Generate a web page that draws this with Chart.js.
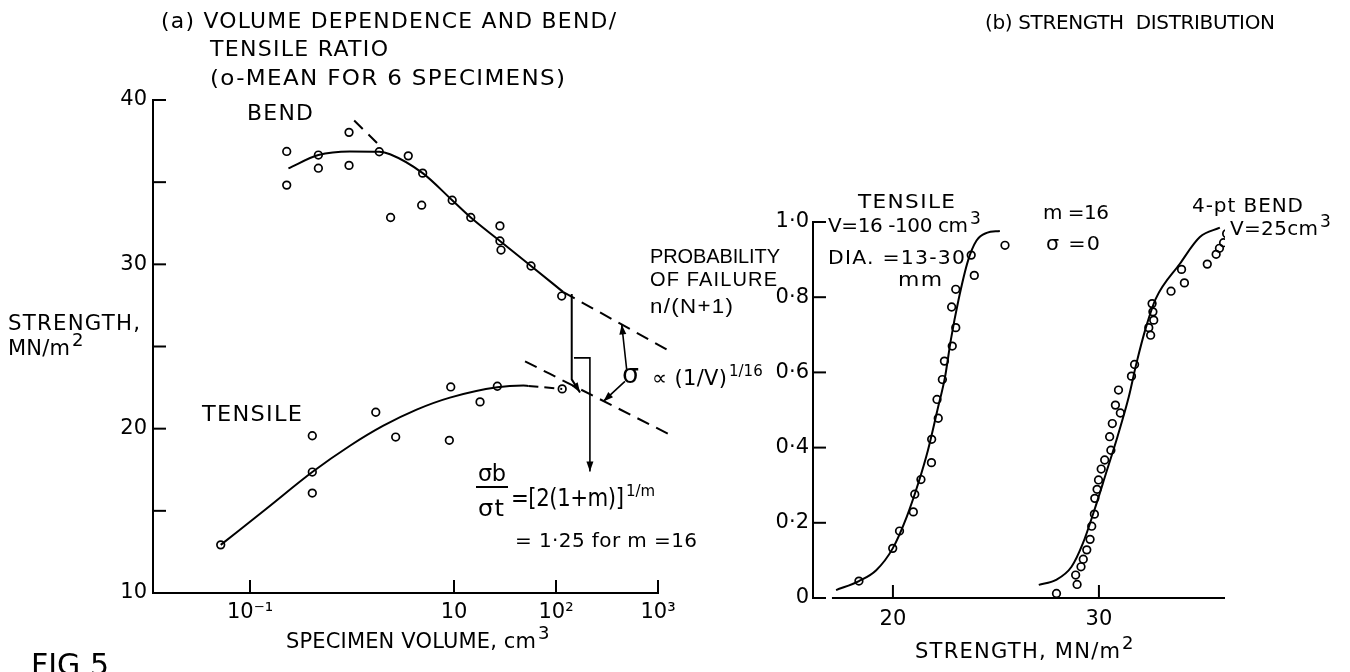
<!DOCTYPE html>
<html><head><meta charset="utf-8">
<script src="https://cdn.jsdelivr.net/npm/chart.js@4.4.0/dist/chart.umd.min.js"></script>
<style>
html,body{margin:0;padding:0;background:#fff;}
#wrap{position:relative;width:1350px;height:672px;overflow:hidden;background:#fff;}
canvas{position:absolute;left:0;top:0;}
</style></head><body>
<div id="wrap"><canvas id="ca" width="1350" height="672"></canvas><canvas id="cb" width="1350" height="672"></canvas></div>
<script>
// ================= Panel (a): volume dependence =================
const volTicks = [0.1, 10, 100, 1000];
const volTickLabels = ['10\u207B\u00B9', '10', '10\u00B2', '10\u00B3'];
const strTicksA = [10, 15, 20, 25, 30, 35, 40];
const strTickLabelsA = ['10', '', '20', '', '30', '', '40'];

// bend specimens (volume cm3, strength MN/m2)
const bendVol = [0.229, 0.229, 0.468, 0.468, 0.935, 0.935, 1.85, 3.56, 4.93, 2.39, 4.82, 9.6, 14.6, 28.2, 28.2, 28.9, 56.9, 113.7];
const bendStr = [36.87, 34.82, 36.65, 35.85, 38.03, 36.02, 36.85, 36.6, 35.55, 32.85, 33.6, 33.9, 32.85, 32.34, 31.42, 30.87, 29.9, 28.07];
// tensile specimens
const tensVol = [0.0516, 0.408, 0.408, 0.408, 1.71, 2.68, 9.0, 9.29, 18.0, 26.6, 115];
const tensStr = [12.93, 19.57, 17.36, 16.08, 21.0, 19.49, 19.29, 22.54, 21.63, 22.58, 22.42];
// fitted curves
const bendFitVol = [0.238, 0.468, 0.955, 1.85, 2.36, 4.93, 9.6, 14.6, 28.2, 56.9, 118];
const bendFitStr = [35.84, 36.65, 36.87, 36.85, 36.7, 35.55, 33.9, 32.85, 31.42, 29.9, 28.31];
const tensFitVol = [0.0516, 0.1436, 0.408, 0.955, 2.03, 4.3, 9.12, 26.6, 47.9, 53.6];
const tensFitStr = [12.93, 15.11, 17.36, 18.96, 20.18, 21.16, 21.89, 22.52, 22.62, 22.6];
const tensDashVol = [53.6, 115];
const tensDashStr = [22.6, 22.42];
// (1/V)^(1/16) dashed lines
const bendExtLeftVol = [1.05, 2.0];
const bendExtLeftStr = [38.75, 37.05];
const bendExtRightVol = [118, 1312];
const bendExtRightStr = [28.31, 24.71];
const tensExtVol = [49.7, 1312];
const tensExtStr = [24.1, 19.63];
// annotation leader lines (data space), arrow head at last point
const gapLineVol = [142.6, 142.6, 172];
const gapLineStr = [28.2, 23.0, 22.2];
const bracketVol = [150, 215, 215];
const bracketStr = [24.31, 24.31, 17.4];
const sigUpVol = [493, 441];
const sigUpStr = [23.6, 26.34];
const sigDownVol = [474, 291];
const sigDownStr = [22.88, 21.66];

// ================= Panel (b): strength distribution =================
const probTicks = [0, 0.2, 0.4, 0.6, 0.8, 1.0];
const probTickLabels = ['0', '0\u00B72', '0\u00B74', '0\u00B76', '0\u00B78', '1\u00B70'];
const strTicksB = [20, 30];
const strTickLabelsB = ['20', '30'];
const strAxisStartB = 17.04;

const tensileS = [18.35, 19.99, 20.32, 20.99, 21.06, 21.36, 21.87, 21.88, 22.2, 22.14, 22.4, 22.5, 22.88, 23.05, 22.85, 23.05, 23.8, 23.95, 25.44];
const tensileP = [0.045, 0.132, 0.178, 0.229, 0.276, 0.315, 0.36, 0.422, 0.478, 0.528, 0.581, 0.63, 0.67, 0.719, 0.774, 0.821, 0.912, 0.858, 0.938];
const bendS = [27.94, 28.94, 28.87, 29.13, 29.24, 29.41, 29.57, 29.65, 29.78, 29.8, 29.91, 29.98, 30.11, 30.28, 30.58, 30.52, 30.65, 30.8, 31.04, 30.95, 31.58, 31.73, 32.51, 32.42, 32.66, 32.62, 32.58, 33.5, 34.15, 34.01, 35.26, 35.69, 35.85, 36.05, 36.2];
const bendP = [0.012, 0.036, 0.061, 0.083, 0.103, 0.128, 0.156, 0.191, 0.223, 0.265, 0.289, 0.314, 0.343, 0.367, 0.393, 0.429, 0.464, 0.513, 0.492, 0.553, 0.59, 0.621, 0.699, 0.719, 0.739, 0.761, 0.783, 0.816, 0.838, 0.874, 0.888, 0.914, 0.93, 0.945, 0.969];
const tensileFitS = [17.24, 18.35, 19.19, 19.99, 20.67, 21.23, 21.7, 22.16, 22.53, 22.81, 23.18, 23.65, 24.06, 24.55, 25.19];
const tensileFitP = [0.021, 0.045, 0.074, 0.132, 0.216, 0.305, 0.393, 0.5, 0.588, 0.686, 0.792, 0.898, 0.951, 0.971, 0.976];
const bendFitS = [27.08, 27.92, 28.67, 29.22, 29.78, 30.34, 30.9, 31.45, 31.82, 32.29, 32.75, 33.93, 34.9, 35.87];
const bendFitP = [0.035, 0.048, 0.083, 0.145, 0.234, 0.331, 0.429, 0.535, 0.624, 0.721, 0.795, 0.889, 0.96, 0.985];

// ================= helpers =================
const FONT = 'DejaVu Sans';
const zip = (xs, ys) => xs.map((x, i) => ({x: x, y: ys[i]}));
const pts = (xs, ys) => ({data: zip(xs, ys), pointRadius: 3.8, pointHoverRadius: 3.8, pointBorderWidth: 1.7,
  pointBorderColor: '#000', pointBackgroundColor: 'rgba(255,255,255,0)', showLine: false});
const curve = (xs, ys, dash, noclip) => ({data: zip(xs, ys), showLine: true, pointRadius: 0, borderColor: '#000',
  borderWidth: 2, borderDash: dash || [], cubicInterpolationMode: 'monotone', clip: noclip ? false : undefined});

function fitText(ctx, t) {
  const size = t.size || 20;
  const fam = t.font || FONT;
  ctx.save();
  ctx.fillStyle = '#000';
  ctx.font = size + 'px "' + fam + '"';
  ctx.letterSpacing = '0px';
  ctx.textBaseline = 'alphabetic';
  ctx.textAlign = 'left';
  const base = t.y + 0.365 * size;
  const w0 = ctx.measureText(t.s).width;
  const n = [...t.s].length;
  let ls = n > 1 ? (t.w - w0) / (n - 1) : 0;
  ls = Math.max(-0.5, Math.min(1.2, ls));
  ctx.letterSpacing = ls + 'px';
  const w1 = w0 + ls * (n - 1);
  const sx = t.w / w1;
  ctx.save();
  ctx.translate(t.x, base);
  ctx.scale(sx, 1);
  ctx.fillText(t.s, 0, 0);
  ctx.restore();
  if (t.sup) {
    const ss = t.supSize || Math.round(size * 0.75);
    ctx.letterSpacing = '0px';
    ctx.font = ss + 'px "' + fam + '"';
    ctx.fillText(t.sup, t.x + t.w + 2, base - size * 0.42);
  }
  ctx.restore();
}

function arrowHead(ctx, x1, y1, x2, y2) {
  const a = Math.atan2(y2 - y1, x2 - x1), L = 10, W = 3.5;
  ctx.beginPath();
  ctx.moveTo(x2, y2);
  ctx.lineTo(x2 - L * Math.cos(a) + W * Math.sin(a), y2 - L * Math.sin(a) - W * Math.cos(a));
  ctx.lineTo(x2 - L * Math.cos(a) - W * Math.sin(a), y2 - L * Math.sin(a) + W * Math.cos(a));
  ctx.closePath();
  ctx.fill();
}

function innerTicks(chart, len, xFrom) {
  const ctx = chart.ctx, xs = chart.scales.x, ys = chart.scales.y, ca = chart.chartArea;
  ctx.save();
  ctx.strokeStyle = '#000';
  ctx.lineWidth = 2;
  ys.ticks.forEach(t => {
    const y = ys.getPixelForValue(t.value);
    ctx.beginPath(); ctx.moveTo(ca.left, y); ctx.lineTo(ca.left + len, y); ctx.stroke();
  });
  xs.ticks.forEach(t => {
    const x = xs.getPixelForValue(t.value);
    ctx.beginPath(); ctx.moveTo(x, ca.bottom); ctx.lineTo(x, ca.bottom - len); ctx.stroke();
  });
  if (xFrom !== undefined) {
    ctx.beginPath();
    ctx.moveTo(xs.getPixelForValue(xFrom), ca.bottom);
    ctx.lineTo(ca.right, ca.bottom);
    ctx.stroke();
  }
  ctx.restore();
}

const textsA = [
  {s: '(a) VOLUME DEPENDENCE AND BEND/', x: 161, y: 20, w: 455, size: 21},
  {s: 'TENSILE RATIO', x: 210, y: 48, w: 178, size: 21},
  {s: '(o-MEAN FOR 6 SPECIMENS)', x: 210, y: 77, w: 355, size: 21},
  {s: 'BEND', x: 247, y: 112, w: 66, size: 21},
  {s: 'TENSILE', x: 202, y: 413, w: 100, size: 21},
  {s: 'STRENGTH,', x: 8, y: 322, w: 132, size: 21},
  {s: 'MN/m', x: 8, y: 347, w: 62, size: 21, sup: '2', supSize: 18},
  {s: 'SPECIMEN VOLUME, cm', x: 286, y: 640, w: 250, size: 21, sup: '3', supSize: 18},
  {s: '\u03C3b', x: 478, y: 473, w: 28, size: 23},
  {s: '\u03C3t', x: 478, y: 508, w: 26, size: 23},
  {s: '=[2(1+m)]', x: 511, y: 497, w: 113, size: 24, sup: '1/m', supSize: 15},
  {s: '= 1\u00B725 for m =16', x: 515, y: 540, w: 182, size: 20},
  {s: '\u03C3', x: 622, y: 374, w: 17, size: 26},
  {s: '\u221D (1/V)', x: 652, y: 377, w: 75, size: 21, sup: '1/16', supSize: 15},
  {s: 'PROBABILITY', x: 650, y: 256, w: 130, size: 20, font: 'Liberation Sans'},
  {s: 'OF FAILURE', x: 650, y: 279, w: 127, size: 20, font: 'Liberation Sans'},
  {s: 'n/(N+1)', x: 650, y: 306, w: 83, size: 20, font: 'Liberation Sans'},
  {s: 'FIG 5', x: 31, y: 664, w: 78, size: 30}
];
const textsB = [
  {s: '(b) STRENGTH  DISTRIBUTION', x: 985, y: 22, w: 290, size: 20},
  {s: 'TENSILE', x: 858, y: 201, w: 97, size: 19},
  {s: 'V=16 -100 cm', x: 828, y: 225, w: 140, size: 20, sup: '3', supSize: 17},
  {s: 'DIA. =13-30', x: 828, y: 257, w: 137, size: 20},
  {s: 'mm', x: 898, y: 279, w: 44, size: 20},
  {s: 'm =16', x: 1043, y: 212, w: 66, size: 20},
  {s: '\u03C3 =0', x: 1046, y: 243, w: 54, size: 20},
  {s: '4-pt BEND', x: 1192, y: 205, w: 111, size: 20},
  {s: 'V=25cm', x: 1230, y: 228, w: 88, size: 20, sup: '3', supSize: 17},
  {s: 'STRENGTH, MN/m', x: 915, y: 650, w: 205, size: 21, sup: '2', supSize: 18}
];

const annotA = {
  id: 'annotA',
  afterDraw(chart) {
    const ctx = chart.ctx, xs = chart.scales.x, ys = chart.scales.y;
    innerTicks(chart, 13);
    ctx.save();
    ctx.fillStyle = '#000';
    [[gapLineVol, gapLineStr], [bracketVol, bracketStr], [sigUpVol, sigUpStr], [sigDownVol, sigDownStr]].forEach(([vx, vy]) => {
      const n = vx.length;
      arrowHead(ctx, xs.getPixelForValue(vx[n - 2]), ys.getPixelForValue(vy[n - 2]),
        xs.getPixelForValue(vx[n - 1]), ys.getPixelForValue(vy[n - 1]));
    });
    // fraction bar of sigma_b / sigma_t
    ctx.fillRect(476, 486, 32, 2);
    ctx.restore();
    textsA.forEach(t => fitText(ctx, t));
  }
};
const annotB = {
  id: 'annotB',
  afterDraw(chart) {
    innerTicks(chart, 13, strAxisStartB);
    textsB.forEach(t => fitText(chart.ctx, t));
  }
};

const tickFont = {family: FONT, size: 21};

new Chart(document.getElementById('ca'), {
  type: 'scatter',
  data: {datasets: [
    pts(bendVol, bendStr),
    pts(tensVol, tensStr),
    curve(bendFitVol, bendFitStr),
    curve(tensFitVol, tensFitStr),
    curve(tensDashVol, tensDashStr, [10, 6]),
    curve(bendExtLeftVol, bendExtLeftStr, [12, 8]),
    curve(bendExtRightVol, bendExtRightStr, [13, 8], true),
    curve(tensExtVol, tensExtStr, [13, 8], true),
    Object.assign(curve(gapLineVol, gapLineStr, [], true), {cubicInterpolationMode: 'default', tension: 0}),
    Object.assign(curve(bracketVol, bracketStr, [], true), {cubicInterpolationMode: 'default', tension: 0, borderWidth: 1.6}),
    Object.assign(curve(sigUpVol, sigUpStr, [], true), {borderWidth: 1.6}),
    Object.assign(curve(sigDownVol, sigDownStr, [], true), {borderWidth: 1.6})
  ]},
  options: {
    responsive: false, animation: false, devicePixelRatio: 1,
    layout: {padding: {left: 113, top: 100, right: 692, bottom: 39}},
    plugins: {legend: {display: false}, tooltip: {enabled: false}},
    events: [],
    scales: {
      x: {
        type: 'logarithmic', min: 0.01119, max: 1000,
        afterBuildTicks: s => { s.ticks = volTicks.map(v => ({value: v})); },
        afterFit: s => { s.height = 40; },
        grid: {display: false, drawTicks: false},
        border: {display: true, color: '#000', width: 2},
        ticks: {callback: (v, i) => volTickLabels[i], font: tickFont, color: '#000', padding: 7, maxRotation: 0, autoSkip: false}
      },
      y: {
        type: 'linear', min: 10, max: 40,
        afterBuildTicks: s => { s.ticks = strTicksA.map(v => ({value: v})); },
        afterFit: s => { s.width = 40; },
        grid: {display: false, drawTicks: false},
        border: {display: true, color: '#000', width: 2},
        ticks: {callback: (v, i) => strTickLabelsA[i], font: tickFont, color: '#000', padding: 6, autoSkip: false}
      }
    }
  },
  plugins: [annotA]
});

new Chart(document.getElementById('cb'), {
  type: 'scatter',
  data: {datasets: [
    pts(tensileS, tensileP),
    pts(bendS, bendP),
    curve(tensileFitS, tensileFitP),
    curve(bendFitS, bendFitP)
  ]},
  options: {
    responsive: false, animation: false, devicePixelRatio: 1,
    layout: {padding: {left: 773, top: 222, right: 125, bottom: 34}},
    plugins: {legend: {display: false}, tooltip: {enabled: false}},
    events: [],
    scales: {
      x: {
        type: 'linear', min: 16.12, max: 36.12,
        afterBuildTicks: s => { s.ticks = strTicksB.map(v => ({value: v})); },
        afterFit: s => { s.height = 40; },
        grid: {display: false, drawTicks: false},
        border: {display: false},
        ticks: {callback: (v, i) => strTickLabelsB[i], font: tickFont, color: '#000', padding: 9, maxRotation: 0, autoSkip: false}
      },
      y: {
        type: 'linear', min: 0, max: 1,
        afterBuildTicks: s => { s.ticks = probTicks.map(v => ({value: v})); },
        afterFit: s => { s.width = 40; },
        grid: {display: false, drawTicks: false},
        border: {display: true, color: '#000', width: 2},
        ticks: {callback: (v, i) => probTickLabels[i], font: tickFont, color: '#000', padding: 4, autoSkip: false}
      }
    }
  },
  plugins: [annotB]
});
</script>
</body></html>
